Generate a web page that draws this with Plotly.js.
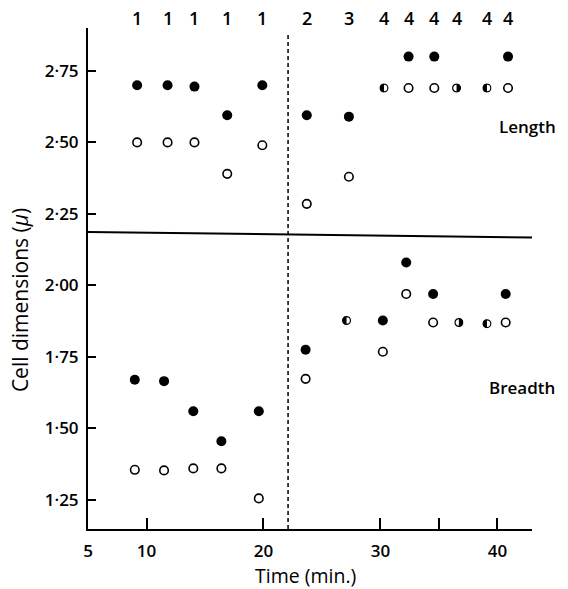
<!DOCTYPE html>
<html>
<head>
<meta charset="utf-8">
<script src="https://cdn.plot.ly/plotly-3.0.1.min.js"></script>
<style>html,body{margin:0;padding:0;background:#fff;}</style>
</head>
<body>
<div id="chart" style="width:568px;height:589px;"></div>
<script>
// ---- data ----
var lengthTimes  = [9.2, 11.8, 14.1, 16.9, 19.9, 23.7, 27.3, 30.3, 32.4, 34.6, 36.5, 39.1, 40.9];
var breadthTimes = [9.0, 11.5, 14.0, 16.4, 19.6, 23.6, 27.1, 30.2, 32.2, 34.5, 36.7, 39.1, 40.7];
var lengthClosed  = [2.70, 2.70, 2.695, 2.595, 2.70, 2.595, 2.59, 2.69, 2.80, 2.80, 2.69, 2.69, 2.80];
var lengthOpen    = [2.50, 2.50, 2.50, 2.39, 2.49, 2.285, 2.38, 2.69, 2.69, 2.69, 2.69, 2.69, 2.69];
var breadthClosed = [1.67, 1.665, 1.56, 1.455, 1.56, 1.775, 1.877, 1.877, 2.08, 1.97, 1.87, 1.866, 1.97];
var breadthOpen   = [1.355, 1.353, 1.36, 1.36, 1.255, 1.673, 1.877, 1.768, 1.97, 1.87, 1.87, 1.866, 1.87];
// side that is black where the two symbols coincide
var lengthHalfSide  = ['', '', '', '', '', '', '', 'L', '', '', 'R', 'L', ''];
var breadthHalfSide = ['', '', '', '', '', '', 'L', '', '', '', 'R', 'L', ''];
var phaseLabels = ['1','1','1','1','1','2','3','4','4','4','4','4','4'];
var xTickVals = [5, 10, 20, 30, 35, 40];
var xTickText = ['5', '10', '20', '30', '', '40'];
var yTickVals = [1.25, 1.50, 1.75, 2.00, 2.25, 2.50, 2.75];
var yTickText = ['1·25', '1·50', '1·75', '2·00', '2·25', '2·50', '2·75'];
var divideTime = 22.1;
var separatorY = [2.187, 2.167];

var FONT = 'Open Sans, Lato, DejaVu Sans, sans-serif';
var W = 568, H = 589, M = {l: 88, r: 36, t: 28, b: 60};
var xRange = [5, 42.95], yRange = [1.148, 2.90];
var pxPerX = (W - M.l - M.r) / (xRange[1] - xRange[0]);
var pxPerY = (H - M.t - M.b) / (yRange[1] - yRange[0]);

function split(times, closed, open, half) {
  var r = {cx: [], cy: [], ox: [], oy: [], hx: [], hy: [], hs: []};
  for (var i = 0; i < times.length; i++) {
    if (half[i]) { r.hx.push(times[i]); r.hy.push(closed[i]); r.hs.push(half[i]); }
    else {
      r.cx.push(times[i]); r.cy.push(closed[i]);
      r.ox.push(times[i]); r.oy.push(open[i]);
    }
  }
  return r;
}
var L = split(lengthTimes, lengthClosed, lengthOpen, lengthHalfSide);
var B = split(breadthTimes, breadthClosed, breadthOpen, breadthHalfSide);

function closedTrace(x, y) {
  return {x: x, y: y, type: 'scatter', mode: 'markers', cliponaxis: false,
    marker: {symbol: 'circle', size: 10, color: '#000'}, hoverinfo: 'skip'};
}
function openTrace(x, y) {
  return {x: x, y: y, type: 'scatter', mode: 'markers', cliponaxis: false,
    marker: {symbol: 'circle', size: 8.5, color: '#fff', line: {color: '#000', width: 1.6}}, hoverinfo: 'skip'};
}

var data = [
  openTrace(L.ox, L.oy), closedTrace(L.cx, L.cy),
  openTrace(B.ox, B.oy), closedTrace(B.cx, B.cy)
];

// half-filled symbols (closed and open values coincide)
function halfSvg(side) {
  var path = side === 'L'
    ? 'M10,1.2 A8.8,8.8 0 0,0 10,18.8 Z'
    : 'M10,1.2 A8.8,8.8 0 0,1 10,18.8 Z';
  var s = '<svg xmlns="http://www.w3.org/2000/svg" width="20" height="20" viewBox="0 0 20 20">' +
    '<circle cx="10" cy="10" r="8.2" fill="#fff" stroke="#000" stroke-width="2.6"/>' +
    '<path d="' + path + '" fill="#000"/></svg>';
  return 'data:image/svg+xml;base64,' + btoa(s);
}
var D = 9.5; // pixel diameter
var images = [];
[L, B].forEach(function(S) {
  S.hx.forEach(function(x, i) {
    images.push({source: halfSvg(S.hs[i]), xref: 'x', yref: 'y', x: x, y: S.hy[i],
      xanchor: 'center', yanchor: 'middle', sizex: D / pxPerX, sizey: D / pxPerY,
      sizing: 'stretch', layer: 'above'});
  });
});

var annotations = phaseLabels.map(function(t, i) {
  return {x: lengthTimes[i], y: 1 + (28 - 18) / 501, xref: 'x', yref: 'paper', yanchor: 'middle',
    text: t, showarrow: false, font: {family: FONT, size: 18, color: '#000', weight: 600}};
});
annotations.push({x: 42.6, y: 2.555, xref: 'x', yref: 'y', xanchor: 'center', yanchor: 'middle', text: 'Length', showarrow: false,
  font: {family: FONT, size: 17, color: '#000', weight: 600}});
annotations.push({x: 42.1, y: 1.644, xref: 'x', yref: 'y', xanchor: 'center', yanchor: 'middle', text: 'Breadth', showarrow: false,
  font: {family: FONT, size: 17, color: '#000', weight: 600}});
annotations.push({x: -0.153, y: 0.457, xref: 'paper', yref: 'paper', xanchor: 'center', yanchor: 'middle', textangle: -90,
  text: 'Cell dimensions (<i>μ</i>)', showarrow: false, font: {family: FONT, size: 21, color: '#000'}});
annotations.push({x: 0.489, y: -0.092, xref: 'paper', yref: 'paper', xanchor: 'center', yanchor: 'middle',
  text: 'Time (min.)', showarrow: false, font: {family: FONT, size: 19.5, color: '#000'}});

var layout = {
  width: W, height: H,
  margin: {l: M.l, r: M.r, t: M.t, b: M.b, pad: 0},
  paper_bgcolor: '#fff', plot_bgcolor: '#fff',
  showlegend: false,
  xaxis: {range: xRange, showgrid: false, zeroline: false, showline: true, linecolor: '#000', linewidth: 2,
    tickmode: 'array', tickvals: xTickVals, ticktext: xTickText, ticks: 'inside', ticklen: 11, tickwidth: 2,
    tickcolor: '#000', ticklabelstandoff: 6, tickfont: {family: FONT, size: 17, color: '#000', weight: 600}},
  yaxis: {range: yRange, showgrid: false, zeroline: false, showline: true, linecolor: '#000', linewidth: 2,
    tickmode: 'array', tickvals: yTickVals, ticktext: yTickText, ticks: 'inside', ticklen: 8, tickwidth: 2,
    tickcolor: '#000', ticklabelstandoff: 4, tickfont: {family: FONT, size: 17, color: '#000', weight: 600}},
  shapes: [
    {type: 'line', xref: 'x', yref: 'y', x0: xRange[0], x1: xRange[1], y0: separatorY[0], y1: separatorY[1],
      line: {color: '#000', width: 2}},
    {type: 'line', xref: 'x', yref: 'y', x0: divideTime, x1: divideTime, y0: yRange[0], y1: 2.885,
      line: {color: '#000', width: 1.5, dash: '4px,3px'}}
  ],
  images: images,
  annotations: annotations
};

Plotly.newPlot('chart', data, layout, {displayModeBar: false, staticPlot: true});
</script>
</body>
</html>
